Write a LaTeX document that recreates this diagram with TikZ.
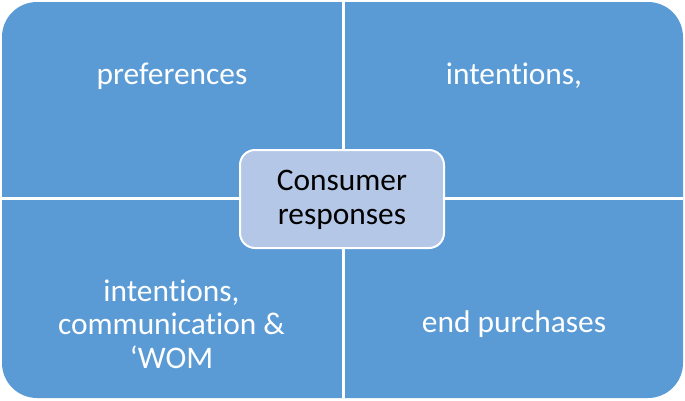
\documentclass[tikz,border=0pt]{standalone}
\usepackage{fontspec}
\setmainfont{Carlito}[Ligatures=NoCommon]
\definecolor{quadblue}{HTML}{5B9BD5}
\definecolor{centerblue}{HTML}{B4C7E7}
\begin{document}
\begin{tikzpicture}[x=1bp,y=-1bp,
  quadtext/.style={text=white,font=\fontsize{31.5}{33.5}\selectfont,align=center},
  centertext/.style={text=black,font=\fontsize{31.5}{33.5}\selectfont,align=center}]
\useasboundingbox (0,0) rectangle (685,400);
\fill[quadblue,rounded corners=35bp] (2,2) rectangle (683,398);
\draw[white,line width=3bp] (343,2) -- (343,398);
\draw[white,line width=3bp] (2,198.5) -- (683,198.5);
\node[quadtext] (tl) at (172,76) {preferences};
\node[quadtext] (tr) at (514,76) {intentions,};
\node[quadtext] (bl) at (171.5,324) {intentions,\\communication \&\\‘WOM};
\node[quadtext] (br) at (514,324) {end purchases};
\draw[white,line width=2bp,fill=centerblue,rounded corners=15bp] (240,150) rectangle (444,248);
\node[centertext] (c) at (342,200) {Consumer\\responses};
\end{tikzpicture}
\end{document}
